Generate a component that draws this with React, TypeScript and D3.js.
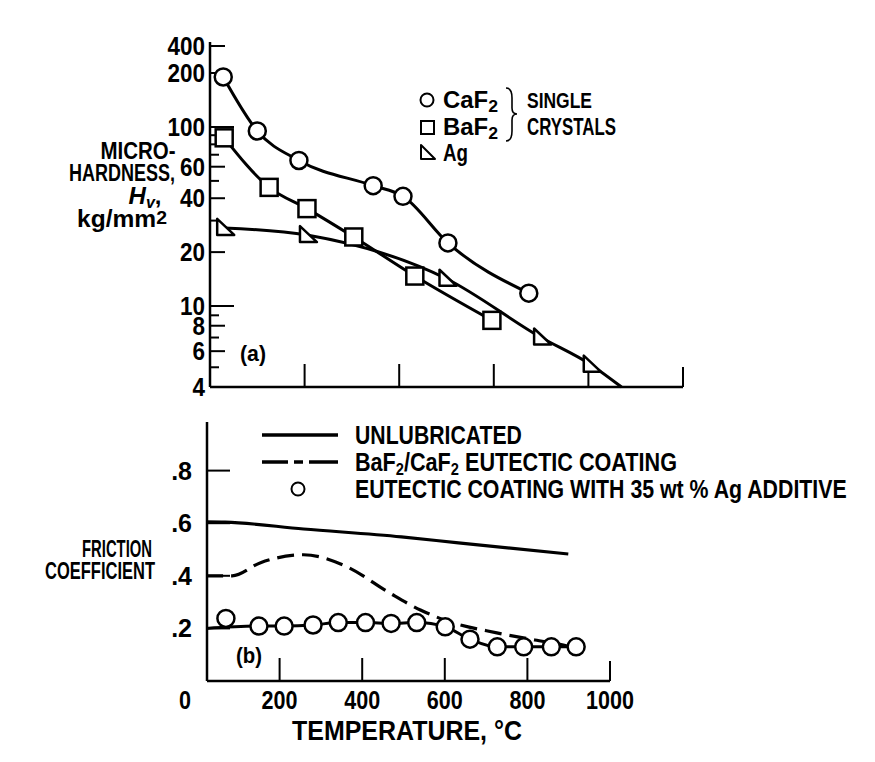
import React, { useEffect, useRef } from 'react';
import * as d3 from 'd3';

// (a) microhardness of single crystals vs temperature
const caf2Temps = [28, 100, 188, 345, 408, 503, 674];
const caf2Hardness = [190, 95, 65, 47, 41, 22.5, 11.8];
const baf2Temps = [30, 125, 205, 304, 433, 596];
const baf2Hardness = [87, 46, 35, 24.3, 14.7, 8.5];
const agTemps = [30, 205, 500, 700, 805];
const agHardness = [27.3, 24.9, 14.2, 7, 5.15];
const agLineEnd = [870, 4];

const hardnessLabels = [400, 200, 100, 60, 40, 20, 10, 8, 6, 4];
const hardnessMajor = [10, 100];
const hardnessMid = [6, 8, 20, 40, 60, 200, 400];
const hardnessMinor = [5, 7, 9, 30, 50, 70, 80, 90];
const tempTicks = [200, 400, 600, 800, 1000];
const tempLabels = [0, 200, 400, 600, 800, 1000];

// (b) friction coefficient vs temperature
const unlubTemps = [22, 68, 258, 495, 633, 899];
const unlubFriction = [0.605, 0.604, 0.578, 0.548, 0.525, 0.483];
const eutecticTemps = [22, 85, 154, 258, 362, 466, 541, 599, 726, 818, 887, 920];
const eutecticFriction = [0.4, 0.4, 0.45, 0.48, 0.435, 0.335, 0.27, 0.232, 0.183, 0.156, 0.137, 0.125];
const agAddTemps = [70, 150, 211, 281, 342, 408, 470, 532, 601, 661, 727, 791, 858, 918];
const agAddFriction = [0.238, 0.209, 0.209, 0.213, 0.222, 0.222, 0.219, 0.222, 0.206, 0.159, 0.13, 0.13, 0.13, 0.13];
const agAddLineStart = [22, 0.2];
const frictionTicks = [0.2, 0.4, 0.6, 0.8];
const frictionLabels = ['.2', '.4', '.6', '.8'];

const FONT = "'Liberation Sans', Arial, sans-serif";

type Sel = d3.Selection<SVGTextElement, unknown, null, undefined>;

const App = () => {
  const svgRef = useRef<SVGSVGElement>(null);

  useEffect(() => {
    if (!svgRef.current) return;
    const svg = d3.select(svgRef.current);
    svg.selectAll('*').remove();

    const xTop = d3.scaleLinear().domain([0, 1000]).range([210, 683]);
    // hand-drawn log axis, so piecewise
    const yTop = d3.scaleLog().domain([4, 10, 100, 200, 400]).range([387, 306, 127, 73, 46]);
    const xBot = d3.scaleLinear().domain([0, 1000]).range([197, 610]);
    const yBot = d3.scaleLinear().domain([0, 1]).range([681, 418]);
    const axisX = 207;

    // bold condensed look: squeeze the text horizontally to a given width
    const text = (x: number, y: number, s: string, size: number, anchor = 'start', len?: number, build?: (t: Sel) => void) => {
      const t = svg.append('text')
        .attr('font-family', FONT)
        .attr('font-weight', 'bold')
        .attr('font-size', size)
        .attr('text-anchor', anchor)
        .attr('fill', '#000')
        .text(s) as unknown as Sel;
      if (build) build(t);
      let sx = 1;
      if (len) {
        const w = (t.node() as SVGTextElement).getComputedTextLength();
        if (w > 0) sx = len / w;
      }
      t.attr('transform', `translate(${x},${y}) scale(${sx},1)`);
      return t;
    };
    const sub = (t: Sel, s: string, size: number) => {
      t.append('tspan').attr('font-size', size).attr('dy', 4).text(s);
    };

    // ---------- (a) ----------
    const gA = svg.append('g').attr('stroke', '#000').attr('fill', 'none');
    gA.append('line')
      .attr('x1', xTop(0)).attr('x2', xTop(0))
      .attr('y1', yTop(400) - 4).attr('y2', yTop(4))
      .attr('stroke-width', 2.5);
    gA.append('line')
      .attr('x1', xTop(0)).attr('x2', xTop(1000))
      .attr('y1', yTop(4)).attr('y2', yTop(4))
      .attr('stroke-width', 2.5);

    const tickSets: [number[], number][] = [[hardnessMajor, 24], [hardnessMid, 15], [hardnessMinor, 9]];
    tickSets.forEach(([vals, len]) => {
      gA.selectAll(null).data(vals).enter().append('line')
        .attr('x1', xTop(0)).attr('x2', xTop(0) + len)
        .attr('y1', d => yTop(d)).attr('y2', d => yTop(d))
        .attr('stroke-width', 2);
    });
    gA.selectAll(null).data(tempTicks).enter().append('line')
      .attr('x1', d => xTop(d)).attr('x2', d => xTop(d))
      .attr('y1', yTop(4)).attr('y2', d => yTop(4) - (d === 1000 ? 20 : 23))
      .attr('stroke-width', 2);

    hardnessLabels.forEach(v => text(205, yTop(v) + 9, String(v), 25, 'end', String(v).length * 12.5));

    const lineTop = d3.line<[number, number]>()
      .x(d => xTop(d[0])).y(d => yTop(d[1]))
      .curve(d3.curveMonotoneX);

    const caf2 = caf2Temps.map((t, i) => [t, caf2Hardness[i]] as [number, number]);
    const baf2 = baf2Temps.map((t, i) => [t, baf2Hardness[i]] as [number, number]);
    const ag = agTemps.map((t, i) => [t, agHardness[i]] as [number, number]);

    [caf2, baf2, [...ag, agLineEnd as [number, number]]].forEach(pts => {
      gA.append('path').attr('d', lineTop(pts)).attr('stroke-width', 3);
    });

    gA.selectAll(null).data(caf2).enter().append('circle')
      .attr('cx', d => xTop(d[0])).attr('cy', d => yTop(d[1])).attr('r', 8.5)
      .attr('fill', '#fff').attr('stroke-width', 2.5);
    gA.selectAll(null).data(baf2).enter().append('rect')
      .attr('x', d => xTop(d[0]) - 8.5).attr('y', d => yTop(d[1]) - 8.5)
      .attr('width', 17).attr('height', 17)
      .attr('fill', '#fff').attr('stroke-width', 2.5);
    const tri = (cx: number, cy: number) =>
      `M${cx - 7},${cy - 9}L${cx - 7},${cy + 7}L${cx + 10},${cy + 7}Z`;
    gA.selectAll(null).data(ag).enter().append('path')
      .attr('d', d => tri(xTop(d[0]), yTop(d[1])))
      .attr('fill', '#fff').attr('stroke-width', 2.5).attr('stroke-linejoin', 'round');

    // legend (a)
    const lgA = svg.append('g').attr('stroke', '#000').attr('fill', '#fff').attr('stroke-width', 2);
    lgA.append('circle').attr('cx', 427).attr('cy', 100).attr('r', 6.5);
    lgA.append('rect').attr('x', 421).attr('y', 121).attr('width', 13).attr('height', 13);
    lgA.append('path').attr('d', 'M421,145L421,159L435,159Z').attr('stroke-linejoin', 'round');
    svg.append('path')
      .attr('d', 'M506,88 Q512,88 512,98 L512,108 Q512,114 517,114 Q512,114 512,120 L512,131 Q512,141 506,141')
      .attr('fill', 'none').attr('stroke', '#000').attr('stroke-width', 1.6);

    text(443, 108, 'CaF', 23, 'start', 55, t => sub(t, '2', 17));
    text(443, 135, 'BaF', 23, 'start', 55, t => sub(t, '2', 17));
    text(443, 161, 'Ag', 23, 'start', 25);
    text(527, 108, 'SINGLE', 23, 'start', 65);
    text(527, 135, 'CRYSTALS', 23, 'start', 89);

    text(240, 361, '(a)', 22, 'start', 26);

    // y title (a)
    text(138, 158.5, 'MICRO-', 24, 'middle', 75);
    text(122, 180.5, 'HARDNESS,', 24, 'middle', 106);
    text(145, 203.5, '', 24, 'middle', undefined, t => {
      t.append('tspan').attr('font-style', 'italic').text('H');
      t.append('tspan').attr('font-style', 'italic').attr('font-size', 16).attr('dy', 4).text('v');
      t.append('tspan').attr('dy', -4).text(',');
    });
    text(122, 226.5, 'kg/mm', 24, 'middle', 90, t => {
      t.append('tspan').attr('font-size', 19).attr('dy', -3).text('2');
    });

    // ---------- (b) ----------
    const gB = svg.append('g').attr('stroke', '#000').attr('fill', 'none');
    gB.append('line')
      .attr('x1', axisX).attr('x2', axisX)
      .attr('y1', yBot(0.985)).attr('y2', yBot(0))
      .attr('stroke-width', 2.5);
    gB.append('line')
      .attr('x1', axisX).attr('x2', xBot(1000))
      .attr('y1', yBot(0)).attr('y2', yBot(0))
      .attr('stroke-width', 2.5);
    gB.selectAll(null).data(frictionTicks).enter().append('line')
      .attr('x1', axisX).attr('x2', axisX + 23)
      .attr('y1', d => yBot(d)).attr('y2', d => yBot(d))
      .attr('stroke-width', 2);
    gB.selectAll(null).data(tempTicks).enter().append('line')
      .attr('x1', d => xBot(d)).attr('x2', d => xBot(d))
      .attr('y1', yBot(0)).attr('y2', d => yBot(0) - (d === 1000 ? 20 : 23))
      .attr('stroke-width', 2);

    frictionTicks.forEach((v, i) => text(192, yBot(v) + 9, frictionLabels[i], 25, 'end'));
    tempLabels.forEach(v => text(v === 0 ? xBot(0) - 12 : xBot(v), 709, String(v), 25, 'middle', String(v).length * 12));

    const lineBot = d3.line<[number, number]>()
      .x(d => xBot(d[0])).y(d => yBot(d[1]))
      .curve(d3.curveMonotoneX);

    const unlub = unlubTemps.map((t, i) => [t, unlubFriction[i]] as [number, number]);
    const eut = eutecticTemps.map((t, i) => [t, eutecticFriction[i]] as [number, number]);
    const agAdd = agAddTemps.map((t, i) => [t, agAddFriction[i]] as [number, number]);

    gB.append('path').attr('d', lineBot(unlub)).attr('stroke-width', 3.2);
    gB.append('path').attr('d', lineBot(eut)).attr('stroke-width', 3.2).attr('stroke-dasharray', '17,8');
    gB.append('path').attr('d', lineBot([agAddLineStart as [number, number], ...agAdd.slice(1)]))
      .attr('stroke-width', 3);
    gB.selectAll(null).data(agAdd).enter().append('circle')
      .attr('cx', d => xBot(d[0])).attr('cy', d => yBot(d[1])).attr('r', 8.5)
      .attr('fill', '#fff').attr('stroke-width', 2.5);

    text(236, 663, '(b)', 22, 'start', 26);

    // legend (b)
    const lgB = svg.append('g').attr('stroke', '#000').attr('fill', 'none');
    lgB.append('line').attr('x1', 262).attr('x2', 338).attr('y1', 435).attr('y2', 435).attr('stroke-width', 3.5);
    lgB.append('path').attr('d', 'M262,462L338,462').attr('stroke-width', 3.5).attr('stroke-dasharray', '26,6,9,6,29');
    lgB.append('circle').attr('cx', 298).attr('cy', 489).attr('r', 6.5).attr('fill', '#fff').attr('stroke-width', 2);

    text(355, 444, 'UNLUBRICATED', 25, 'start', 167);
    text(355, 471, 'BaF', 25, 'start', 322, t => {
      sub(t, '2', 17);
      t.append('tspan').attr('dy', -4).text('/CaF');
      sub(t, '2', 17);
      t.append('tspan').attr('dy', -4).text(' EUTECTIC COATING');
    });
    text(355, 498, 'EUTECTIC COATING WITH 35 wt % Ag ADDITIVE', 25, 'start', 492);

    // y title (b)
    text(117, 556.5, 'FRICTION', 24, 'middle', 70);
    text(100, 578.5, 'COEFFICIENT', 24, 'middle', 110);

    // x title
    text(407, 740, 'TEMPERATURE,  °C', 28, 'middle', 230);
  }, []);

  return (
    <svg
      ref={svgRef}
      width={875}
      height={762}
      style={{ position: 'absolute', left: 0, top: 0, background: '#fff' }}
    />
  );
};

export default App;
